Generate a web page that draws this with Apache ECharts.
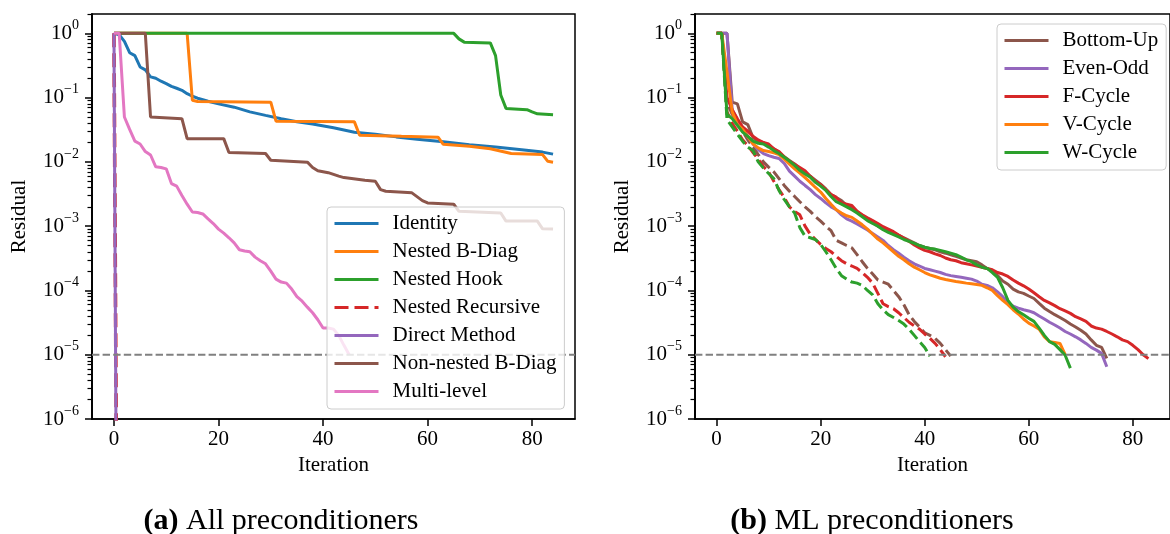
<!DOCTYPE html>
<html>
<head>
<meta charset="utf-8">
<script src="https://cdn.jsdelivr.net/npm/echarts@6/dist/echarts.min.js"></script>
<style>html,body{margin:0;padding:0;background:#fff;}#c{width:1170px;height:534px;}</style>
</head>
<body>
<div id="c"></div>
<script>
// ---------- data ----------
const xTicks = [0, 20, 40, 60, 80];
const yMajor = [1e-6, 1e-5, 1e-4, 1e-3, 1e-2, 1e-1, 1];
const threshold = 1e-5;

// Left panel: [iteration, residual]
const leftNames = ['Identity', 'Nested B-Diag', 'Nested Hook', 'Nested Recursive', 'Direct Method', 'Non-nested B-Diag', 'Multi-level'];
const identity = [[0,1],[1,0.95],[2,0.75],[3,0.5],[4,0.45],[5,0.3],[6,0.27],[7,0.21],[8,0.2],[9,0.18],[10,0.165],[11,0.15],[12,0.14],[13,0.13],[14,0.115],[15,0.105],[16,0.098],[18,0.088],[20,0.08],[23,0.071],[26,0.06],[29,0.053],[32,0.047],[35,0.042],[38,0.039],[42,0.034],[46,0.029],[50,0.027],[54,0.0245],[58,0.0225],[63,0.0205],[68,0.0185],[73,0.017],[78,0.0155],[82,0.0142],[84,0.0132]];
const nestedBDiag = [[0,1],[14,1],[15,0.091],[16,0.087],[30,0.085],[31,0.043],[46,0.042],[47,0.026],[55,0.025],[62,0.0242],[63,0.0188],[68,0.0175],[72,0.016],[76,0.0135],[82,0.013],[83,0.0102],[84,0.0099]];
const nestedHook = [[0,1],[65,1],[66,0.82],[67,0.73],[72,0.71],[73,0.45],[74,0.11],[75,0.068],[79,0.065],[80,0.06],[81,0.056],[84,0.054]];
const nestedRecursive = [[0,1],[1,1e-14]];
const directMethod = [[0,1],[1,1e-16]];
const nonNestedBDiag = [[0,1],[6,1],[7,0.05],[13,0.047],[14,0.023],[21,0.023],[22,0.014],[29,0.0135],[30,0.0106],[37,0.0099],[38,0.0082],[39,0.0073],[41,0.0068],[43,0.006],[44,0.0057],[48,0.0052],[50,0.005],[51,0.0037],[52,0.0035],[57,0.0033],[59,0.0025],[60,0.0023],[65,0.0022],[66,0.0017],[74,0.0016],[75,0.0012],[81,0.0012],[82,0.00091],[84,0.0009]];
const multiLevel = [[0,1],[1,1],[2,0.05],[3,0.032],[4,0.021],[5,0.019],[6,0.0145],[7,0.0128],[8,0.0084],[9,0.0082],[10,0.0078],[11,0.0046],[12,0.0042],[13,0.003],[14,0.0022],[15,0.00166],[16,0.00163],[17,0.00155],[18,0.0013],[19,0.0011],[20,0.0009],[21,0.00078],[22,0.00066],[23,0.00055],[24,0.00043],[25,0.00041],[26,0.0004],[27,0.00033],[28,0.00029],[29,0.00026],[30,0.0002],[31,0.00015],[32,0.000135],[33,0.00013],[34,0.000105],[35,0.00008],[36,0.000068],[37,0.000055],[38,0.000045],[39,0.000035],[40,0.000026],[41,0.000026],[42,0.000025],[43,0.00002],[44,0.000014],[45,0.00001]];

// Right panel: residual per iteration (index = iteration)
const rightNames = ['Bottom-Up', 'Even-Odd', 'F-Cycle', 'V-Cycle', 'W-Cycle'];
const bottomUp = [1,1,1,0.085,0.08,0.042,0.038,0.024,0.021,0.02,0.018,0.016,0.014,0.012,0.0105,0.0093,0.0078,0.0068,0.006,0.0052,0.0045,0.0038,0.0031,0.0028,0.0025,0.0021,0.002,0.0017,0.00145,0.00125,0.00115,0.001,0.00092,0.00085,0.00078,0.00072,0.00066,0.0006,0.00055,0.0005,0.00047,0.00045,0.00043,0.0004,0.00038,0.00036,0.00034,0.00032,0.0003,0.00029,0.00028,0.00025,0.00022,0.0002,0.00017,0.00014,0.000125,0.000105,0.000095,0.00009,0.000082,0.000075,0.000063,0.000053,0.000047,0.000042,0.000038,0.000034,0.00003,0.000027,0.000024,0.000021,0.000017,0.000014,0.000013,0.0000088];
const evenOdd = [1,1,1,0.065,0.045,0.034,0.025,0.019,0.0155,0.0135,0.0125,0.0118,0.0113,0.0095,0.0072,0.006,0.005,0.0043,0.0037,0.0031,0.0027,0.0023,0.002,0.0018,0.0015,0.0013,0.0012,0.00108,0.00097,0.00087,0.00077,0.00068,0.0006,0.0005,0.00043,0.00038,0.00033,0.00029,0.00026,0.00024,0.00022,0.00021,0.0002,0.00019,0.000178,0.00017,0.000165,0.00016,0.000155,0.00015,0.00014,0.000125,0.00012,0.00011,0.000095,0.00008,0.000065,0.000057,0.000053,0.00005,0.000048,0.000045,0.00004,0.000036,0.000032,0.000029,0.000026,0.000023,0.000021,0.000019,0.000017,0.000015,0.000013,0.0000118,0.0000105,0.0000065];
const fCycle = [1,1,0.1,0.065,0.047,0.035,0.03,0.025,0.022,0.02,0.019,0.016,0.0145,0.012,0.0102,0.0092,0.0082,0.0073,0.006,0.005,0.0044,0.0037,0.0031,0.0028,0.0023,0.0022,0.0021,0.0017,0.0015,0.00135,0.00122,0.0011,0.00098,0.0009,0.00082,0.00073,0.00065,0.00058,0.00051,0.00046,0.00042,0.0004,0.00037,0.00035,0.00032,0.0003,0.00029,0.00027,0.00026,0.00025,0.00024,0.00023,0.00022,0.00021,0.00019,0.00018,0.000165,0.000145,0.00013,0.000118,0.000105,0.000092,0.00008,0.00007,0.000064,0.000058,0.000052,0.000048,0.000044,0.000039,0.000036,0.000033,0.000028,0.000026,0.000025,0.000023,0.000021,0.000019,0.000017,0.000016,0.000014,0.000012,0.00001,0.0000087];
const vCycle = [1,1,0.25,0.06,0.038,0.032,0.025,0.019,0.0165,0.015,0.0145,0.0138,0.013,0.011,0.0092,0.0078,0.0067,0.0057,0.0048,0.004,0.0034,0.0027,0.0022,0.0018,0.0016,0.00145,0.00137,0.0012,0.00105,0.0009,0.00075,0.00063,0.00055,0.00047,0.0004,0.00034,0.0003,0.00026,0.00023,0.00021,0.00019,0.000175,0.000165,0.000155,0.000148,0.000143,0.000138,0.000134,0.00013,0.000127,0.000124,0.00012,0.00011,0.0001,0.000083,0.00007,0.00006,0.00005,0.000043,0.000036,0.000031,0.000028,0.000025,0.000019,0.000016,0.0000155,0.000015,0.00001];
const wCycle = [1,1,0.055,0.047,0.037,0.029,0.025,0.021,0.0195,0.019,0.017,0.015,0.0135,0.0118,0.0103,0.0088,0.0074,0.0065,0.0058,0.0048,0.0042,0.0036,0.0029,0.0024,0.0022,0.002,0.0018,0.0016,0.0014,0.00122,0.0011,0.001,0.00088,0.0008,0.00074,0.00068,0.00062,0.00058,0.00054,0.0005,0.00047,0.00045,0.00044,0.00042,0.0004,0.00038,0.00036,0.00033,0.0003,0.00028,0.00025,0.00023,0.00022,0.00019,0.00016,0.00011,0.00007,0.000055,0.000047,0.000042,0.000037,0.000033,0.000026,0.00002,0.000016,0.0000145,0.000012,0.0000098,0.0000062];
const bottomUpDashed = [1,1,0.085,0.055,0.04,0.03,0.022,0.017,0.013,0.01,0.0083,0.007,0.0055,0.0043,0.0035,0.0029,0.0024,0.002,0.0017,0.0014,0.0012,0.001,0.00085,0.0006,0.00055,0.0005,0.00046,0.00036,0.00028,0.00022,0.00018,0.000145,0.000135,0.000125,0.0001,0.00008,0.00006,0.000042,0.000033,0.000027,0.000022,0.00002,0.000018,0.000015,0.000012,0.0000095];
const fCycleDashed = [1,1,0.06,0.04,0.03,0.022,0.018,0.014,0.011,0.0085,0.007,0.005,0.0037,0.0028,0.002,0.0017,0.0015,0.001,0.00075,0.00062,0.00052,0.00045,0.0004,0.00034,0.00029,0.00026,0.00024,0.00022,0.00019,0.00016,0.00013,0.00009,0.000062,0.000056,0.000052,0.000045,0.000038,0.000032,0.000028,0.000025,0.000021,0.000018,0.000015,0.000012,0.0000093];
const wCycleDashed = [1,1,0.045,0.035,0.027,0.021,0.017,0.015,0.01,0.008,0.0066,0.0055,0.0036,0.0026,0.002,0.0016,0.00095,0.0007,0.00066,0.00062,0.00052,0.0004,0.0003,0.00022,0.00017,0.00015,0.000135,0.00013,0.00012,0.0001,0.000085,0.000062,0.00005,0.000042,0.000038,0.000034,0.00003,0.000025,0.00002,0.000016,0.000013,0.0000095];

// ---------- styling ----------
const FONT = '"Liberation Serif", "Times New Roman", serif';
const C = { blue:'#1f77b4', orange:'#ff7f0e', green:'#2ca02c', red:'#d62728', purple:'#9467bd', brown:'#8c564b', pink:'#e377c2', gray:'#808080' };
const LW = 3;

const yMinor = [];
for (let e = -6; e <= 0; e++) for (let k = 2; k <= 9; k++) { const v = k * Math.pow(10, e); if (v <= 2.0000001) yMinor.push(v); }

function expLabel(v) {
  const e = Math.round(Math.log10(v));
  return '{b|10}{s|' + (e < 0 ? '\u2212' + (-e) : e) + '}';
}

const grids = [
  { left: 92, top: 14, width: 483, height: 405 },
  { left: 695, top: 14, width: 484, height: 405 }
].map(g => Object.assign(g, { show: true, borderColor: '#000', borderWidth: 1.5, backgroundColor: 'transparent', containLabel: false }));

const xRanges = [[-4.2, 88.2], [-4.15, 87.15]];
const xAxes = xRanges.map((r, i) => ({
  gridIndex: i, type: 'value', min: r[0], max: r[1],
  splitLine: { show: false },
  axisLine: { show: true, onZero: false, lineStyle: { color: '#000', width: 1.5 } },
  axisTick: { show: true, customValues: xTicks, length: 7, lineStyle: { color: '#000', width: 1.5 } },
  axisLabel: { customValues: xTicks, margin: 10, fontSize: 21, fontFamily: FONT, color: '#000' },
  name: 'Iteration', nameLocation: 'middle', nameGap: 35,
  nameTextStyle: { fontSize: 21, fontFamily: FONT, color: '#000' }
}));

const yAxes = [];
[0, 1].forEach(i => {
  yAxes.push({
    gridIndex: i, type: 'log', logBase: 10, min: 1e-6, max: 2, position: 'left',
    splitLine: { show: false }, minorTick: { show: false },
    axisLine: { show: true, onZero: false, lineStyle: { color: '#000', width: 1.5 } },
    axisTick: { show: true, customValues: yMajor, length: 7, lineStyle: { color: '#000', width: 1.5 } },
    axisLabel: {
      customValues: yMajor, margin: 13, formatter: expLabel, color: '#000',
      rich: {
        b: { fontSize: 21, fontFamily: FONT, color: '#000', lineHeight: 30, verticalAlign: 'middle' },
        s: { fontSize: 14, fontFamily: FONT, color: '#000', lineHeight: 14, verticalAlign: 'top' }
      }
    },
    name: 'Residual', nameLocation: 'middle', nameGap: 62, nameRotate: 90,
    nameTextStyle: { fontSize: 21, fontFamily: FONT, color: '#000' }
  });
  yAxes.push({
    gridIndex: i, type: 'log', logBase: 10, min: 1e-6, max: 2, position: 'left', offset: 0,
    splitLine: { show: false }, minorTick: { show: false },
    axisLine: { show: true, onZero: false, lineStyle: { color: '#000', width: 1.5 } },
    axisLabel: { show: false },
    axisTick: { show: true, customValues: yMinor, length: 4.5, lineStyle: { color: '#000', width: 1.2 } }
  });
});

function line(name, data, color, gi, dash, width) {
  return {
    name, type: 'line', data, xAxisIndex: gi, yAxisIndex: gi * 2,
    symbol: 'none', showSymbol: false, animation: false, silent: true,
    lineStyle: { color, width: width || LW, type: dash || 'solid' },
    itemStyle: { color }, emphasis: { disabled: true }
  };
}
const idx = a => a.map((v, i) => [i, v]);

const series = [
  line('Identity', identity, C.blue, 0),
  line('Nested B-Diag', nestedBDiag, C.orange, 0),
  line('Nested Hook', nestedHook, C.green, 0),
  line('Nested Recursive', nestedRecursive, C.red, 0, [14, 6], 3.6),
  line('Direct Method', directMethod, C.purple, 0),
  line('Non-nested B-Diag', nonNestedBDiag, C.brown, 0),
  line('Multi-level', multiLevel, C.pink, 0),
  line('threshold-a', xRanges[0].map(x => [x, threshold]), C.gray, 0, [7.4, 3.2], 2),
  line('Bottom-Up dashed', idx(bottomUpDashed), C.brown, 1, [11, 4.8]),
  line('F-Cycle dashed', idx(fCycleDashed), C.red, 1, [11, 4.8]),
  line('W-Cycle dashed', idx(wCycleDashed), C.green, 1, [11, 4.8]),
  line('Bottom-Up', idx(bottomUp), C.brown, 1),
  line('Even-Odd', idx(evenOdd), C.purple, 1),
  line('F-Cycle', idx(fCycle), C.red, 1),
  line('V-Cycle', idx(vCycle), C.orange, 1),
  line('W-Cycle', idx(wCycle), C.green, 1),
  line('threshold-b', xRanges[1].map(x => [x, threshold]), C.gray, 1, [7.4, 3.2], 2)
];

const legendBase = {
  orient: 'vertical', itemWidth: 44, itemHeight: 14, itemGap: 7,
  padding: [6, 8, 7, 6], backgroundColor: 'rgba(255,255,255,0.8)',
  borderColor: '#cccccc', borderWidth: 1, borderRadius: 4, selectedMode: false,
  itemStyle: { opacity: 0 },
  lineStyle: { width: 3 },
  textStyle: { fontSize: 21, fontFamily: FONT, color: '#000', lineHeight: 21, padding: [0, 0, 0, 9] }
};

const option = {
  backgroundColor: '#fff', animation: false,
  grid: grids, xAxis: xAxes, yAxis: yAxes, series,
  legend: [
    Object.assign({}, legendBase, { data: leftNames, left: 327, top: 207 }),
    Object.assign({}, legendBase, { data: rightNames, left: 997, top: 24 })
  ],
  graphic: [
    { type: 'text', x: 281, y: 521, style: { text: '{b|(a)} All preconditioners', align: 'center', verticalAlign: 'middle', fontSize: 30, fontFamily: FONT, fill: '#000', rich: { b: { fontSize: 30, fontFamily: FONT, fontWeight: 'bold', fill: '#000' } } } },
    { type: 'text', x: 872, y: 521, style: { text: '{b|(b)} ML preconditioners', align: 'center', verticalAlign: 'middle', fontSize: 30, fontFamily: FONT, fill: '#000', rich: { b: { fontSize: 30, fontFamily: FONT, fontWeight: 'bold', fill: '#000' } } } }
  ]
};

const chart = echarts.init(document.getElementById('c'), null, { renderer: 'canvas' });
chart.setOption(option);
</script>
</body>
</html>
